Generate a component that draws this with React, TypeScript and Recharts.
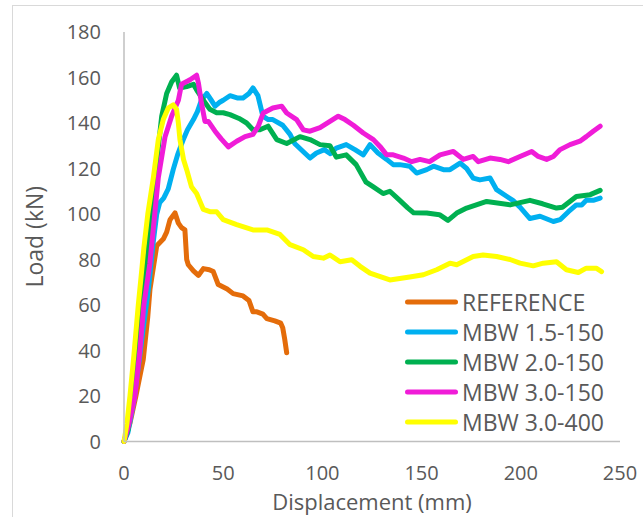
import { LineChart, Line, XAxis, YAxis, Label } from "recharts";

// displacement (mm) / load (kN) pairs
const refX = [0, 3, 6, 9.7, 12, 13.1, 16.5, 19.8, 21.5, 23.2, 25.7, 27.4, 29, 30.7, 31.6, 32.4, 35, 37.5, 40, 43, 45, 47.5, 52, 55, 60, 63, 65, 67, 70, 72, 76, 79, 80, 81, 82];
const refY = [0, 8, 20, 36, 55, 67, 86, 89, 92, 97.5, 100.5, 96, 94, 93, 80, 77.7, 75, 73, 76, 75.5, 74.7, 69, 67, 65, 64, 62, 57, 57, 56, 54, 53, 52, 50, 45, 39];

const mbw15X = [0, 2, 5, 8, 10, 12.3, 14.8, 16.5, 18, 20, 22.3, 24.8, 27, 30, 32, 35, 37, 39, 41.7, 44, 45.9, 48, 50, 53.4, 57, 60, 63, 65, 67.5, 70, 72.7, 75, 80, 83.7, 86, 89.6, 93.75, 97, 101, 104, 107, 112, 116.4, 120.6, 124, 128, 132.4, 135.7, 139, 144, 147.5, 152.6, 156, 161, 164.3, 169.4, 172.7, 176, 179.4, 184.5, 187.8, 193, 196, 199.6, 204.6, 209.7, 216.4, 219.8, 224, 228, 230.7, 233, 236.5, 240];
const mbw15Y = [0, 4, 18, 38, 52, 67, 88, 100, 105, 107, 111, 119.5, 126, 133, 137, 141.5, 145, 150, 153, 150, 147.4, 149, 150, 152, 151, 151, 153, 155.4, 152, 143, 141.5, 141.5, 139, 135, 131, 128, 124.6, 126.8, 128.3, 126.5, 129, 130.5, 128.3, 126, 130.5, 126.8, 124, 121.7, 121.7, 121, 118, 119.5, 121, 119.5, 119.5, 122.4, 120, 115.8, 115, 115.8, 110.7, 107.7, 106, 103, 98, 99, 96.7, 97.5, 101, 104, 104, 106, 106, 107];

const mbw20X = [0, 2, 4.6, 8, 11, 14, 17, 19, 21.5, 24, 26.5, 28, 31.6, 35, 37, 40, 43.3, 46.7, 50, 53.4, 58, 61.8, 65, 68.5, 72.6, 77, 82, 88.7, 93.75, 98.8, 103.8, 107, 112, 117, 122, 125.5, 130.6, 134, 139, 143, 146, 152.6, 159, 163.3, 167.7, 172.7, 182.8, 194.6, 204.6, 211, 218, 221, 228, 235, 240];
const mbw20Y = [0, 5, 21, 50, 75, 100, 127, 143, 153, 158, 161, 155.4, 156, 157, 154, 150, 146, 144.5, 144.5, 143.7, 142, 140, 137, 137, 138.6, 132.7, 131, 134, 132.7, 130.5, 130, 125, 126, 121.7, 114, 112, 109, 110, 106, 102.7, 100.5, 100.4, 99.7, 97.2, 100.4, 102.6, 105.5, 104, 106, 104.5, 102.6, 103, 107.7, 108.5, 110.4];

const mbw30X = [0, 2, 5.5, 8, 10, 13, 15.5, 17.3, 20.7, 24, 27.4, 29, 33.3, 36.6, 37.5, 39, 40.8, 42.5, 45.9, 49, 52.6, 56.8, 61, 65, 67.7, 70.2, 75, 79.5, 82, 87, 90.4, 93.75, 98.8, 103.8, 108, 111.4, 115.6, 120.6, 125.7, 129, 132.4, 135.7, 140.8, 145, 149.2, 154, 159.3, 166, 171, 176, 178.6, 184.5, 189.5, 193.7, 199.6, 205.5, 208.8, 213, 216.4, 219.8, 224.8, 229.8, 233, 236.5, 240];
const mbw30Y = [0, 6, 20, 40, 60, 78, 100, 116, 134, 143, 150, 157, 159, 161, 157.6, 149, 140.7, 140.7, 136.4, 133, 129.5, 132, 134, 135, 138.6, 144.4, 146.6, 147.4, 144.4, 141.5, 137, 136.4, 138, 140.7, 143, 141.5, 139, 135.6, 132.7, 129.7, 126, 126, 124.6, 123, 124, 123, 126, 127.5, 124, 125.3, 123, 124.6, 124, 123, 125.3, 127.5, 125.3, 124, 125.3, 128.3, 130.5, 132, 134, 136.4, 138.6];

const mbw400X = [0, 1.5, 3, 5, 7.2, 8.9, 10, 12, 14.8, 17.3, 19.8, 22.3, 24.8, 26.5, 27.4, 28.2, 30, 31.6, 34, 36.6, 40, 43.3, 46.7, 50, 56.8, 65, 72, 78.6, 83.7, 90.4, 95.4, 100.5, 103.8, 108.9, 114.8, 119, 124, 134, 144, 150.9, 157.6, 164.3, 167.7, 176, 181, 187.8, 194.6, 199.6, 206.3, 211.3, 218, 223, 229, 233, 238, 240.7];
const mbw400Y = [0, 8, 20, 38, 60, 75, 85, 100, 116, 132.7, 141.5, 146.6, 148, 146, 140, 132.7, 124, 119.5, 112, 109, 102, 101, 101, 97.5, 95.3, 93, 93, 91, 86.5, 84.3, 81.3, 80.6, 82, 79, 79.9, 77, 74, 71, 72.3, 73.3, 75.5, 78.4, 77.7, 81.3, 82, 81.3, 80, 78.4, 77.2, 78.4, 79, 75.5, 74.3, 76.2, 76.2, 74.7];

const xTicks = [0, 50, 100, 150, 200, 250];
const yTicks = [0, 20, 40, 60, 80, 100, 120, 140, 160, 180];

const series = [
  { name: "REFERENCE", color: "#E46C0A", xs: refX, ys: refY },
  { name: "MBW 1.5-150", color: "#00B0F0", xs: mbw15X, ys: mbw15Y },
  { name: "MBW 2.0-150", color: "#00B050", xs: mbw20X, ys: mbw20Y },
  { name: "MBW 3.0-150", color: "#F01CD8", xs: mbw30X, ys: mbw30Y },
  { name: "MBW 3.0-400", color: "#FFFF00", xs: mbw400X, ys: mbw400Y },
];

const FONT = "'Open Sans', sans-serif";
const TEXT = "#595959";

function toPoints(xs: number[], ys: number[]) {
  return xs.map((x, i) => ({ x, y: ys[i] }));
}

export default function App() {
  return (
    <div
      style={{
        position: "fixed",
        left: 0,
        top: 0,
        width: 643,
        height: 517,
        background: "#fff",
        fontFamily: FONT,
        overflow: "hidden",
      }}
    >
      <div
        style={{
          position: "absolute",
          left: 12,
          top: 5,
          width: 660,
          height: 540,
          border: "1.5px solid #d9d9d9",
        }}
      />
      <LineChart
        width={643}
        height={517}
        margin={{ top: 32, right: 23, bottom: 0, left: 0 }}
        style={{ position: "absolute", left: 0, top: 0 }}
      >
        <XAxis
          type="number"
          dataKey="x"
          domain={[0, 250]}
          ticks={xTicks}
          height={75.5}
          stroke="#bfbfbf"
          strokeWidth={1.5}
          tickLine={false}
          tickSize={0}
          tickMargin={24}
          tick={{ fill: TEXT, fontSize: 20, fontFamily: FONT }}
        >
          <Label
            value="Displacement (mm)"
            position="insideBottom"
            offset={7}
            style={{ fill: TEXT, fontSize: 22, fontFamily: FONT }}
          />
        </XAxis>
        <YAxis
          type="number"
          dataKey="y"
          domain={[0, 180]}
          ticks={yTicks}
          width={124}
          stroke="#bfbfbf"
          strokeWidth={1.5}
          tickLine={false}
          tickSize={0}
          tickMargin={23}
          tick={{ fill: TEXT, fontSize: 20, fontFamily: FONT }}
        >
          <Label
            value="Load (kN)"
            angle={-90}
            position="insideLeft"
            offset={35}
            style={{ fill: TEXT, fontSize: 23, fontFamily: FONT, textAnchor: "middle" }}
          />
        </YAxis>
        {series.map((s) => (
          <Line
            key={s.name}
            name={s.name}
            data={toPoints(s.xs, s.ys)}
            dataKey="y"
            type="linear"
            stroke={s.color}
            strokeWidth={5}
            strokeLinejoin="round"
            strokeLinecap="round"
            dot={false}
            activeDot={false}
            isAnimationActive={false}
          />
        ))}
      </LineChart>
      <div style={{ position: "absolute", left: 405, top: 286.6 }}>
        {series.map((s) => (
          <div
            key={s.name}
            style={{ display: "flex", alignItems: "center", height: 30 }}
          >
            <svg width={57} height={30}>
              <line
                x1={2.5}
                x2={50.5}
                y1={15}
                y2={15}
                stroke={s.color}
                strokeWidth={5}
                strokeLinecap="round"
              />
            </svg>
            <span
              style={{
                fontSize: 23,
                lineHeight: "30px",
                color: TEXT,
                fontFamily: FONT,
                whiteSpace: "nowrap",
              }}
            >
              {s.name}
            </span>
          </div>
        ))}
      </div>
    </div>
  );
}
